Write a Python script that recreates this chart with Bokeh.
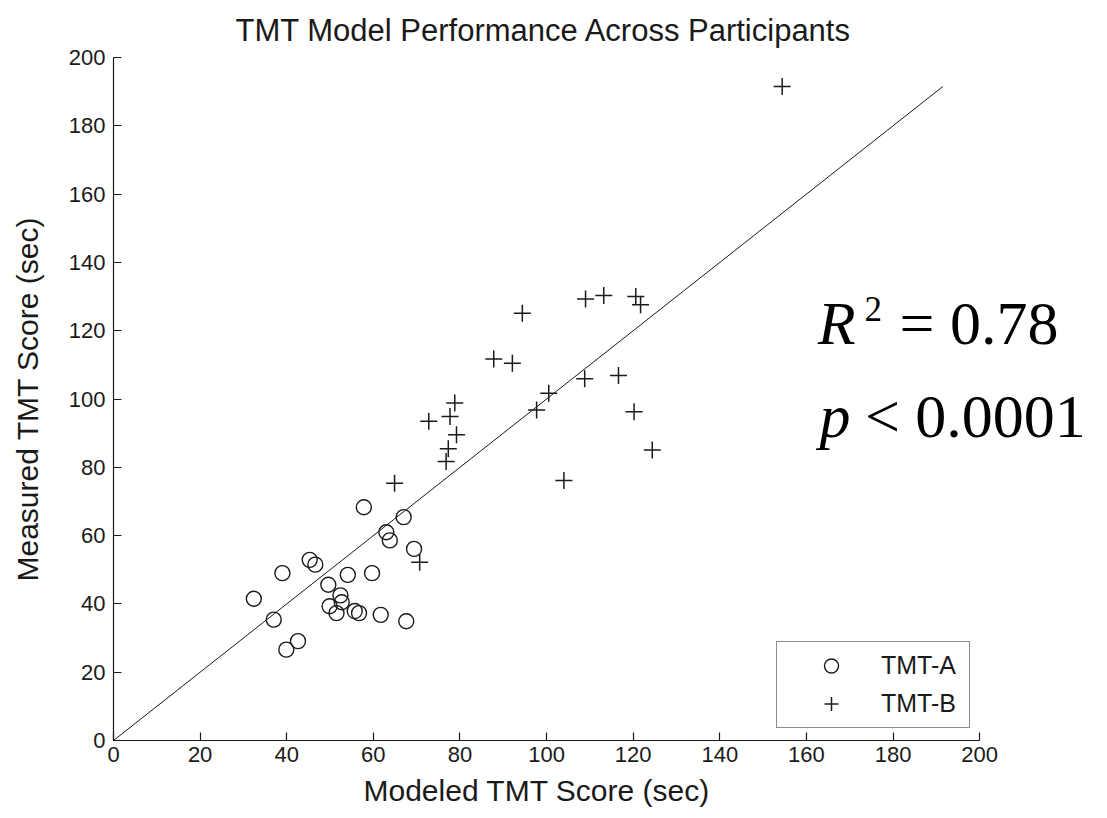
from bokeh.plotting import figure
from bokeh.models import Range1d, Label, Legend, LegendItem, FixedTicker, Title
from bokeh.embed import file_html
from bokeh.resources import INLINE

# TMT-A (circles)
a_modeled = [32.4, 37.0, 39.0, 39.9, 42.6, 45.3, 46.6, 49.6, 49.9, 51.5, 52.4, 52.7,
             54.1, 55.7, 56.7, 57.8, 59.7, 61.7, 63.0, 63.8, 67.0, 67.6, 69.4]
a_measured = [41.5, 35.4, 49.0, 26.6, 29.1, 52.9, 51.5, 45.6, 39.3, 37.3, 42.5, 40.5,
              48.5, 37.9, 37.3, 68.3, 49.0, 36.8, 61.0, 58.6, 65.4, 34.9, 56.1]
# TMT-B (plus signs)
b_modeled = [64.9, 70.7, 72.8, 78.8, 77.7, 79.2, 77.3, 76.8, 87.8, 92.1, 94.4, 97.7,
             100.5, 104.0, 109.0, 108.8, 113.2, 116.6, 120.6, 121.7, 120.2, 124.4, 154.4]
b_measured = [75.3, 52.2, 93.5, 98.8, 94.9, 89.5, 85.4, 81.7, 111.7, 110.5, 125.1, 96.8,
              101.7, 76.1, 129.3, 105.9, 130.3, 106.9, 130.0, 127.6, 96.3, 85.1, 191.5]
ticks = list(range(0, 201, 20))
identity_end = max(b_measured)

FONT = "Liberation Sans"
SERIF = "Liberation Serif"
INK = "#1a1a1a"

p = figure(width=1107, height=818, output_backend="svg", toolbar_location=None,
           x_range=Range1d(0, 227.9), y_range=Range1d(0, 200),
           min_border_left=113, min_border_right=7, min_border_top=57, min_border_bottom=78,
           title="TMT Model Performance Across Participants")
p.outline_line_color = None
p.xgrid.visible = False
p.ygrid.visible = False
p.background_fill_color = "white"
p.border_fill_color = "white"

p.title.align = "left"
p.title.offset = 122
p.title.text_font = FONT
p.title.text_font_size = "31px"
p.title.text_font_style = "normal"
p.title.text_color = INK
p.title.standoff = 19

for ax in (p.xaxis[0], p.yaxis[0]):
    ax.ticker = FixedTicker(ticks=ticks)
    ax.bounds = (0, 200)
    ax.major_tick_in = 8
    ax.major_tick_out = 0
    ax.minor_tick_line_color = None
    ax.axis_line_color = INK
    ax.axis_line_width = 1.2
    ax.major_tick_line_color = INK
    ax.major_tick_line_width = 1.2
    ax.major_label_text_font = FONT
    ax.major_label_text_font_size = "22px"
    ax.major_label_text_color = INK
    ax.axis_label_text_font = FONT
    ax.axis_label_text_font_size = "30px"
    ax.axis_label_text_font_style = "normal"
    ax.axis_label_text_color = INK

p.yaxis.axis_label = "Measured TMT Score (sec)"
p.xaxis.major_label_standoff = 6
p.yaxis.major_label_standoff = 8
p.yaxis.axis_label_standoff = 22

xlabel = Title(text="Modeled TMT Score (sec)", align="left", offset=250,
               text_font=FONT, text_font_size="30px", text_font_style="normal",
               text_color=INK, standoff=14)
p.add_layout(xlabel, "below")

p.line([0, identity_end], [0, identity_end], line_color=INK, line_width=1)

ra = p.scatter(a_modeled, a_measured, marker="circle", size=15, fill_color=None,
               line_color=INK, line_width=1.4)
rb = p.scatter(b_modeled, b_measured, marker="cross", size=17, line_color=INK, line_width=1.5)

legend = Legend(items=[LegendItem(label="TMT-A", renderers=[ra]),
                       LegendItem(label="TMT-B", renderers=[rb])],
                location=(663, 12))
legend.padding = 6
legend.margin = 0
legend.spacing = 3
legend.glyph_width = 96
legend.glyph_height = 35
legend.label_height = 35
legend.label_width = 82
legend.label_standoff = 2
legend.label_text_font = FONT
legend.label_text_font_size = "25px"
legend.label_text_color = INK
legend.border_line_color = INK
legend.border_line_width = 1.2
legend.background_fill_alpha = 1
p.add_layout(legend, "center")

def lab(x, y, text, size, style="normal"):
    p.add_layout(Label(x=x, y=y, x_units="data", y_units="data", text=text,
                       text_font=SERIF, text_font_size=size, text_font_style=style,
                       text_color="black", text_baseline="alphabetic"))

lab(162.6, 122.3, "R", "62px", "italic")
lab(173.4, 126.3, "2", "35px")
lab(181.5, 122.3, "= 0.78", "62px")
lab(163.0, 94.9, "p", "62px", "italic")
lab(173.5, 94.9, "< 0.0001", "62px")

open("out.html", "w").write(file_html(p, INLINE))
